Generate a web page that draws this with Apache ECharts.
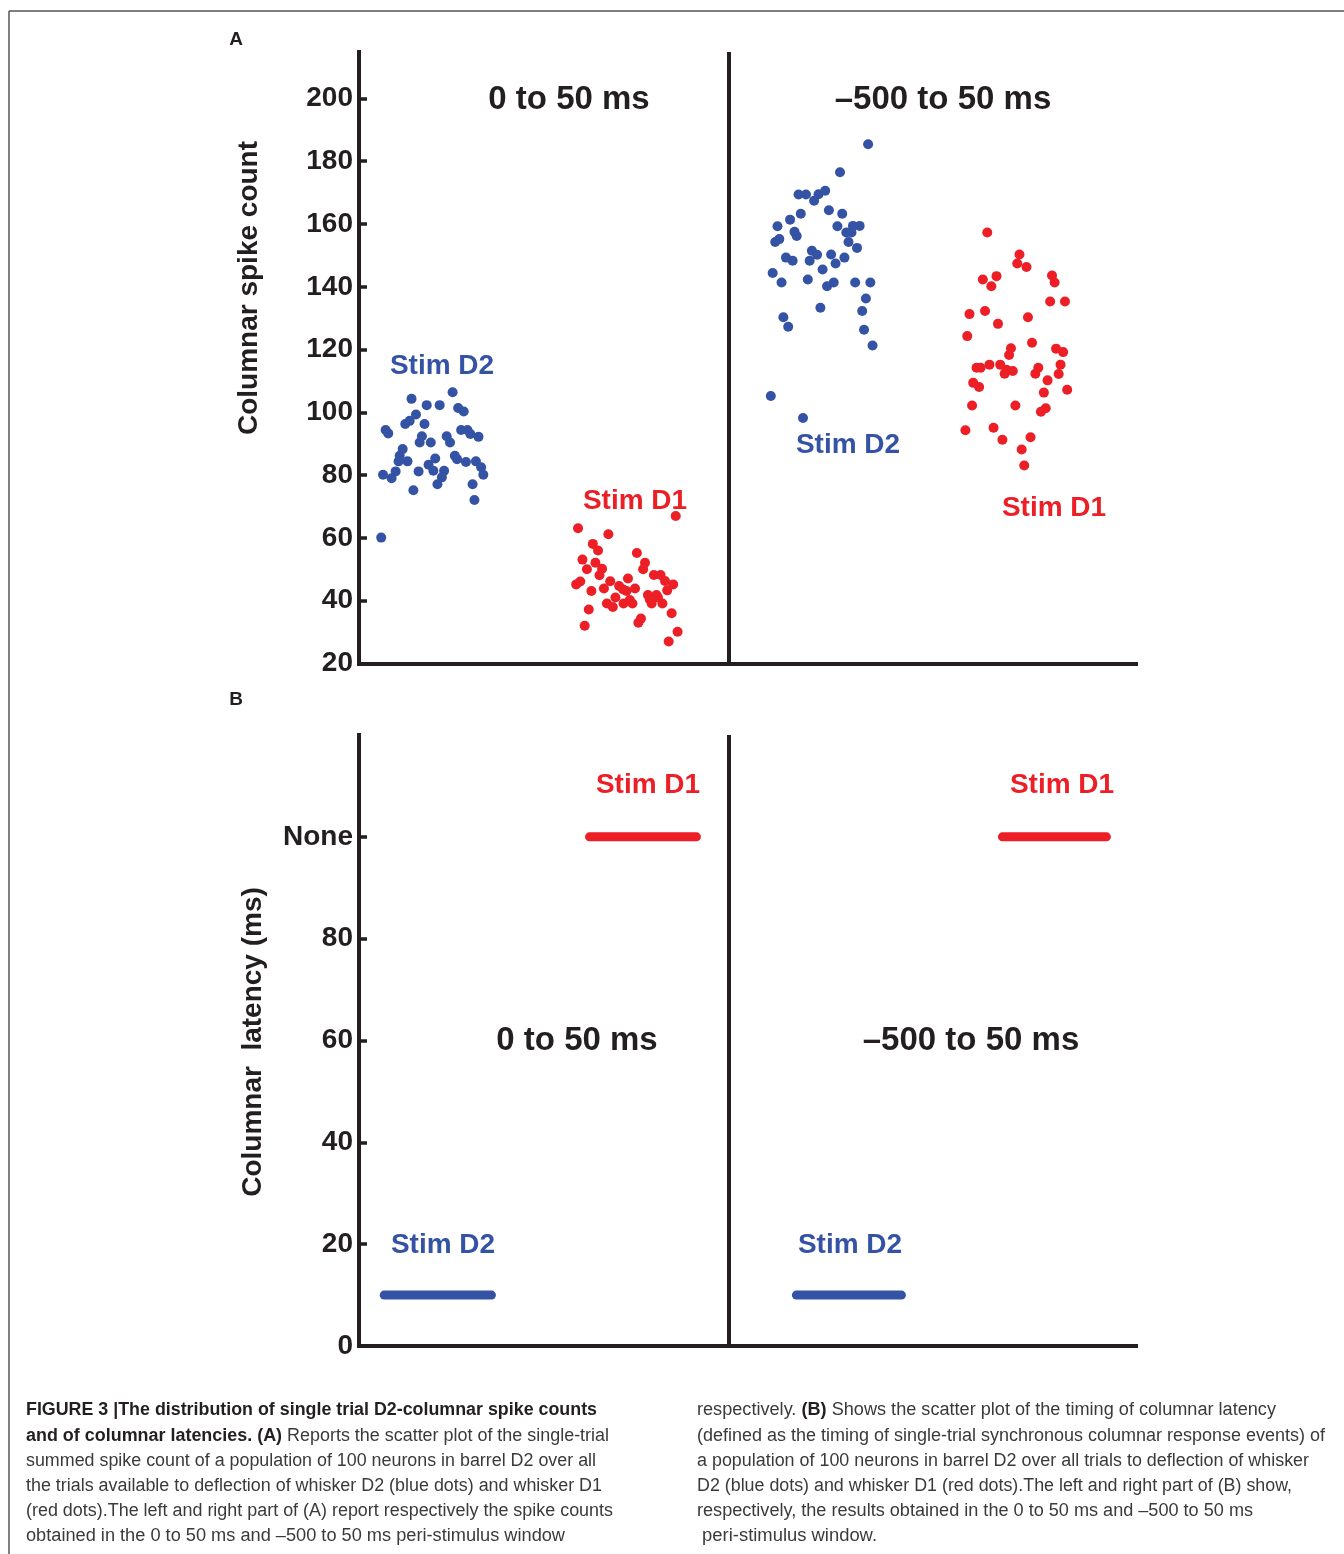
<!DOCTYPE html>
<html><head><meta charset="utf-8">
<script src="https://cdn.jsdelivr.net/npm/echarts@6/dist/echarts.min.js"></script>
<style>html,body{margin:0;padding:0;background:#fff}#c{width:1344px;height:1554px}</style>
</head><body><div id="c"></div>
<script>
// ---------- DATA ----------
// Panel A: single-trial summed spike counts, [jitter position, spike count]
const spikeD2Early = [
[0.253,106.4],[0.142,104.3],[0.183,102.3],[0.218,102.3],[0.268,101.4],[0.283,100.3],[0.154,99.3],[0.137,97.3],
[0.125,96.3],[0.177,96.3],[0.072,94.4],[0.079,93.3],[0.276,94.4],[0.293,94.4],[0.301,93.1],[0.323,92.2],
[0.170,92.4],[0.164,90.4],[0.194,90.4],[0.237,92.4],[0.246,90.4],[0.118,88.3],[0.110,86.2],[0.107,84.4],
[0.131,84.4],[0.206,85.3],[0.259,86.2],[0.265,85.1],[0.289,84.2],[0.316,84.4],[0.330,82.5],[0.336,80.1],
[0.188,83.3],[0.201,81.4],[0.230,81.4],[0.224,79.3],[0.212,77.1],[0.161,81.2],[0.065,80.1],[0.088,79.0],
[0.099,81.2],[0.307,77.1],[0.147,75.2],[0.312,72.1],[0.060,60.1]
];
const spikeD1Early = [
[0.856,67.0],[0.592,63.1],[0.674,61.2],[0.632,58.1],[0.646,56.0],[0.751,55.2],[0.604,53.1],[0.773,52.1],
[0.768,50.0],[0.639,52.1],[0.657,50.2],[0.650,48.1],[0.616,50.0],[0.797,48.2],[0.815,48.2],[0.827,46.3],
[0.849,45.2],[0.833,43.3],[0.727,47.1],[0.587,45.2],[0.598,46.1],[0.679,46.2],[0.662,43.9],[0.703,44.7],
[0.714,43.6],[0.723,43.1],[0.746,43.9],[0.628,43.1],[0.781,41.8],[0.804,41.8],[0.786,40.4],[0.808,41.0],
[0.693,41.0],[0.732,40.2],[0.739,39.1],[0.670,39.1],[0.686,38.0],[0.715,39.1],[0.791,39.1],[0.820,39.1],
[0.621,37.2],[0.845,36.0],[0.762,34.3],[0.755,33.0],[0.610,32.0],[0.861,30.1],[0.837,27.0]
];
const spikeD2Late = [
[1.376,185.4],[1.300,176.5],[1.188,169.4],[1.208,169.4],[1.242,169.5],[1.260,170.6],[1.230,167.4],[1.270,164.4],
[1.306,163.3],[1.194,163.3],[1.165,161.4],[1.131,159.3],[1.293,159.3],[1.335,159.4],[1.353,159.4],[1.317,157.3],
[1.331,157.3],[1.177,157.5],[1.183,156.2],[1.136,155.2],[1.125,154.3],[1.323,154.3],[1.346,152.4],[1.224,151.5],
[1.238,150.2],[1.276,150.3],[1.312,149.3],[1.154,149.3],[1.172,148.3],[1.218,148.3],[1.288,147.4],[1.253,145.5],
[1.118,144.4],[1.213,142.3],[1.142,141.4],[1.283,141.4],[1.265,140.2],[1.341,141.4],[1.382,141.4],[1.370,136.3],
[1.360,132.3],[1.247,133.3],[1.147,130.3],[1.160,127.3],[1.365,126.3],[1.388,121.3],[1.113,105.2],[1.200,98.2]
];
const spikeD1Late = [
[1.698,157.3],[1.785,150.3],[1.779,147.4],[1.804,146.3],[1.723,143.4],[1.686,142.3],[1.709,140.2],[1.873,143.6],
[1.880,141.4],[1.868,135.3],[1.908,135.3],[1.650,131.3],[1.692,132.3],[1.808,130.3],[1.727,128.2],[1.644,124.3],
[1.819,122.2],[1.762,120.4],[1.757,118.3],[1.884,120.3],[1.903,119.2],[1.669,114.2],[1.680,114.2],[1.704,115.2],
[1.733,115.2],[1.750,113.6],[1.745,112.3],[1.767,113.2],[1.836,114.2],[1.828,112.3],[1.896,115.2],[1.891,112.2],
[1.861,110.2],[1.660,109.4],[1.676,108.1],[1.851,106.3],[1.914,107.2],[1.657,102.2],[1.774,102.2],[1.856,101.3],
[1.843,100.2],[1.639,94.3],[1.715,95.1],[1.739,91.3],[1.815,92.1],[1.791,88.2],[1.798,83.1]
];
// Panel B: columnar latency (ms); 100 stands for "None"
const latencyD2 = 10;
const latencyD1 = 100;
const spreadD2Early = [0.068, 0.358];
const spreadD1Early = [0.623, 0.912];
const spreadD2Late = [1.182, 1.466];
const spreadD1Late = [1.739, 2.020];
// tick labels
const spikeTicks = [20,40,60,80,100,120,140,160,180,200];
const latencyTicks = [0,20,40,60,80,100];
const latencyNoneValue = 100;
const windowLabels = ['0 to 50 ms', '\u2013500 to 50 ms'];
const stimLabels = ['Stim D2', 'Stim D1'];

// ---------- STYLE ----------
const INK = '#231f20', BLUE = '#3553a5', RED = '#ec1f27';
const FF = '"Liberation Sans", Arial, Helvetica, sans-serif';

const chart = echarts.init(document.getElementById('c'), null, {renderer:'canvas'});

function xAx(gi){
  return {gridIndex:gi, type:'value', min:0, max:2.1,
    axisLine:{show:true, onZero:false, lineStyle:{color:INK, width:4, cap:'square'}},
    axisTick:{show:false}, axisLabel:{show:false}, splitLine:{show:false}};
}
function yAx(gi, min, max, labels, ticks, fmt){
  return {gridIndex:gi, type:'value', min:min, max:max,
    axisLine:{show:true, onZero:false, lineStyle:{color:INK, width:4, cap:'square'}},
    axisTick:{show:true, inside:true, length:8, customValues:ticks, lineStyle:{color:INK, width:3.5}},
    axisLabel:{show:true, customValues:labels, margin:6, color:INK, fontFamily:FF, fontWeight:'bold', fontSize:28,
      formatter: fmt || (v=>String(v))},
    splitLine:{show:false}};
}
function dots(data, color){
  return {type:'scatter', xAxisIndex:0, yAxisIndex:0, data:data, symbolSize:10,
    itemStyle:{color:color, opacity:1}, silent:true, z:3};
}
function bar(span, val, color){
  return {type:'line', xAxisIndex:1, yAxisIndex:1, data:span.map(x=>[x,val]), showSymbol:false, symbol:'none',
    lineStyle:{color:color, width:9, cap:'round'}, silent:true, z:3};
}
function divider(ai){
  return {type:'line', xAxisIndex:ai, yAxisIndex:ai, data:[], markLine:{silent:true, symbol:'none',
    label:{show:false}, lineStyle:{color:INK, width:4, type:'solid'}, data:[{xAxis:1}]}};
}

// ---------- annotation text ----------
function txt(x, y, s, size, color, rot){
  return {type:'text', x:x, y:y, rotation:rot||0, silent:true, z:10,
    style:{text:s, fill:color, font:'bold '+size+'px '+FF, align:'center', verticalAlign:'middle',
      textAlign:'center', textVerticalAlign:'middle'}};
}
const graphics = [
  {type:'line', silent:true, shape:{x1:9,y1:11,x2:1344,y2:11}, style:{stroke:'#555', lineWidth:1.5}},
  {type:'line', silent:true, shape:{x1:9,y1:11,x2:9,y2:1554}, style:{stroke:'#555', lineWidth:1.5}},
  txt(236, 40, 'A', 19, INK), txt(236, 700, 'B', 19, INK),
  txt(569, 100, windowLabels[0], 33, INK), txt(943, 100, windowLabels[1], 33, INK),
  txt(577, 1041, windowLabels[0], 33, INK), txt(971, 1041, windowLabels[1], 33, INK),
  txt(249, 288, 'Columnar spike count', 28, INK, Math.PI/2),
  txt(253, 1042, 'Columnar  latency (ms)', 28, INK, Math.PI/2),
  txt(442, 366, stimLabels[0], 28, BLUE), txt(635, 501, stimLabels[1], 28, RED),
  txt(848, 445, stimLabels[0], 28, BLUE), txt(1054, 508, stimLabels[1], 28, RED),
  txt(648, 785, stimLabels[1], 28, RED), txt(1062, 785, stimLabels[1], 28, RED),
  txt(443, 1245, stimLabels[0], 28, BLUE), txt(850, 1245, stimLabels[0], 28, BLUE)
];

// ---------- caption ----------
const captionLeft = [
  [[1,'FIGURE 3 |The distribution of single trial D2-columnar spike counts']],
  [[1,'and of columnar latencies. (A)'],[0,' Reports the scatter plot of the single-trial']],
  [[0,'summed spike count of a population of 100 neurons in barrel D2 over all']],
  [[0,'the trials available to deflection of whisker D2 (blue dots) and whisker D1']],
  [[0,'(red dots).The left and right part of (A) report respectively the spike counts']],
  [[0,'obtained in the 0 to 50 ms and \u2013500 to 50 ms peri-stimulus window']]
];
const captionRight = [
  [[0,'respectively. '],[1,'(B)'],[0,' Shows the scatter plot of the timing of columnar latency']],
  [[0,'(defined as the timing of single-trial synchronous columnar response events) of']],
  [[0,'a population of 100 neurons in barrel D2 over all trials to deflection of whisker']],
  [[0,'D2 (blue dots) and whisker D1 (red dots).The left and right part of (B) show,']],
  [[0,'respectively, the results obtained in the 0 to 50 ms and \u2013500 to 50 ms']],
  [[0,' peri-stimulus window.']]
];
const CAP_FS = 18;
const leftEnds = [597, 609, 596, 602, 613, 565];
const rightEnds = [1276, 1325, 1309, 1292, 1253, 877];
const ctx = document.createElement('canvas').getContext('2d');
function segW(seg){ ctx.font = (seg[0]?'bold ':'')+CAP_FS+'px '+FF; return ctx.measureText(seg[1]).width; }
function capLine(segs, x0, xEnd, y){
  const w = segs.reduce((a,s)=>a+segW(s),0);
  const sc = (xEnd - x0) / w;
  return {type:'text', x:x0, y:y, scaleX:sc, scaleY:1, silent:true, z:10,
    style:{text: segs.map(s=>'{'+(s[0]?'b':'r')+'|'+s[1]+'}').join(''),
      font: CAP_FS+'px '+FF, align:'left', verticalAlign:'middle', textAlign:'left', textVerticalAlign:'middle',
      rich:{b:{fontWeight:'bold', fontSize:CAP_FS, fontFamily:FF, fill:INK, color:INK},
            r:{fontWeight:'normal', fontSize:CAP_FS, fontFamily:FF, fill:'#3a3a3a', color:'#3a3a3a'}}}};
}
captionLeft.forEach((segs,i)=>graphics.push(capLine(segs, 26, leftEnds[i], 1410.5 + i*25.2)));
captionRight.forEach((segs,i)=>graphics.push(capLine(segs, 697, rightEnds[i], 1410.5 + i*25.2)));

chart.setOption({
  animation:false,
  backgroundColor:'#fff',
  grid:[{left:359, top:52, width:777, height:611.5},
        {left:359, top:735, width:777, height:611}],
  xAxis:[xAx(0), xAx(1)],
  yAxis:[yAx(0, 20, 214.8, spikeTicks, spikeTicks.slice(1)),
         yAx(1, 0, 120, latencyTicks, latencyTicks.slice(1), v=> v===latencyNoneValue ? 'None' : String(v))],
  series:[
    divider(0), divider(1),
    dots(spikeD2Early, BLUE), dots(spikeD1Early, RED), dots(spikeD2Late, BLUE), dots(spikeD1Late, RED),
    bar(spreadD2Early, latencyD2, BLUE), bar(spreadD1Early, latencyD1, RED),
    bar(spreadD2Late, latencyD2, BLUE), bar(spreadD1Late, latencyD1, RED)
  ],
  graphic: graphics
});
</script></body></html>
